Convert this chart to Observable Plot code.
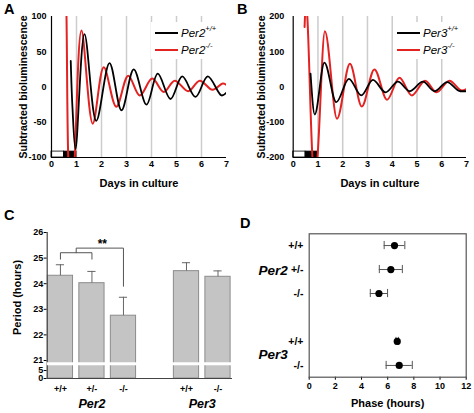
<!DOCTYPE html>
<html><head><meta charset="utf-8">
<script src="https://cdn.jsdelivr.net/npm/d3@7"></script>
<script src="https://cdn.jsdelivr.net/npm/@observablehq/plot@0.6"></script>
<style>
body{margin:0;background:#fff;}
#fig{position:relative;width:474px;height:413px;font-family:"Liberation Sans",Arial,sans-serif;overflow:hidden;background:#fff;}
.panel{position:absolute;}
.letter{position:absolute;font-weight:bold;font-size:14.5px;line-height:14.5px;}
.legend{position:absolute;background:#fff;}
.lrow{position:absolute;left:0;display:flex;align-items:center;height:14px;white-space:nowrap;font-style:italic;font-size:11.5px;}
.sw{width:23px;height:1.6px;margin-right:3px;}
.lrow sup{font-size:7.5px;line-height:0;position:relative;top:-1px;}
</style>
</head><body>
<div id="fig">
  <div class="panel" id="pA" style="left:0;top:0"></div>
  <div class="panel" id="pB" style="left:234px;top:0"></div>
  <div class="panel" id="pC" style="left:0;top:200px"></div>
  <div class="panel" id="pD" style="left:234px;top:200px"></div>
  <div class="letter" style="left:4px;top:2px">A</div>
  <div class="letter" style="left:237px;top:2px">B</div>
  <div class="letter" style="left:4px;top:208px">C</div>
  <div class="letter" style="left:240px;top:216px">D</div>
  <div class="legend" id="legA" style="left:151px;top:22px;width:75px;height:37px"></div>
  <div class="legend" id="legB" style="left:393px;top:22px;width:73px;height:37px"></div>
</div>
<script>
// ---------- data ----------
const days = [0, 1, 2, 3, 4, 5, 6, 7];
const gridDays = [1, 2, 3, 4, 5, 6];
const ticksA = [-100, -50, 0, 50, 100];
const ticksB = [-200, -100, 0, 100, 200];

// [day, subtracted bioluminescence]
const per2WT = [[0.77,37],[0.84,-30],[0.96,-88],[1.32,75],[1.79,-48],[2.32,34],[2.80,-33],[3.29,25],[3.80,-25],[4.25,19],[4.76,-17],[5.23,15],[5.76,-14],[6.25,15],[6.80,-12],[7.0,-8]];
const per2KO = [[0.5,300],[0.6,100],[0.67,-100],[0.8,-200],[0.93,-100],[1.2,80],[1.65,-52],[2.09,28],[2.59,-28],[3.07,16],[3.53,-12],[4.03,12],[4.49,-7],[4.93,9],[5.47,-6],[5.93,9],[6.44,-4],[6.85,5],[7.0,3]];
const per3WT = [[0.70,38],[0.87,-78],[1.26,69],[1.74,-43],[2.25,23],[2.75,-24],[3.22,20],[3.73,-15],[4.23,15],[4.71,-12],[5.24,15],[5.71,-12],[6.22,14],[6.75,-12],[7.0,-12]];
const per3KO = [[0.46,170],[0.52,250],[0.57,200],[0.77,-190],[0.87,-280],[0.98,-200],[1.28,158],[1.77,-90],[2.29,66],[2.77,-55],[3.28,50],[3.79,-36],[4.29,26],[4.79,-24],[5.33,18],[5.79,-15],[6.31,18],[6.82,-10],[7.0,-6]];
const ldPhases = [{start: 0, end: 0.5, dark: false}, {start: 0.5, end: 1, dark: true}];

const periodGenes = ["Per2", "Per2", "Per2", "Per3", "Per3"];
const periodGenotypes = ["+/+", "+/-", "-/-", "+/+", "-/-"];
const periodMean = [24.31, 24.02, 22.75, 24.49, 24.27];
const periodSem = [0.43, 0.46, 0.72, 0.33, 0.23];
const periodTicks = [0, 5, 21, 22, 23, 24, 25, 26];

const phaseGenes = ["Per2", "Per2", "Per2", "Per3", "Per3"];
const phaseGenotypes = ["+/+", "+/-", "-/-", "+/+", "-/-"];
const phaseMean = [6.52, 6.24, 5.33, 6.73, 6.88];
const phaseSem = [0.79, 0.88, 0.66, 0.1, 1.0];
const phaseTicks = [0, 2, 4, 6, 8, 10, 12];

// ---------- helpers ----------
const RED = "#e32222";
const FONT = '"Liberation Sans", Arial, sans-serif';
const baseStyle = {fontFamily: FONT, fontSize: "9px", fontWeight: "bold", color: "black", background: "transparent", overflow: "visible"};

function slotIndex(genes) {
  const out = []; let s = 0;
  genes.forEach((g, i) => { if (i > 0 && g !== genes[i - 1]) s++; out.push(s); s++; });
  return out;
}

function timePanel({wt, ko, yDomain, yTicks, marginLeft, curve, tickPad, ylabDx}) {
  const ldTop = yDomain[0] + 0.042 * (yDomain[1] - yDomain[0]);
  return Plot.plot({
    width: 234 + (marginLeft > 55 ? 6 : 0), height: 200,
    marginLeft, marginRight: 8, marginTop: 16, marginBottom: 43,
    style: baseStyle,
    x: {domain: [0, 7], ticks: days, tickSize: 0, tickPadding: 3, label: null, tickFormat: d => String(d)},
    y: {domain: yDomain, ticks: yTicks, tickSize: 0, tickPadding: tickPad, label: null, tickFormat: d => String(d)},
    marks: [
      Plot.ruleX(gridDays, {stroke: "#cccccc", strokeWidth: 1.5}),
      Plot.rect(ldPhases, {x1: "start", x2: "end", y1: yDomain[0], y2: ldTop, fill: d => d.dark ? "black" : "white", stroke: "black", strokeWidth: 0.8}),
      Plot.line(ko, {x: d => d[0], y: d => d[1], stroke: RED, strokeWidth: 2, curve, clip: true}),
      Plot.line(wt, {x: d => d[0], y: d => d[1], stroke: "black", strokeWidth: 1.8, curve, clip: true}),
      Plot.ruleX([0], {stroke: "black", strokeWidth: 1.2}),
      Plot.ruleY([yDomain[0]], {stroke: "black", strokeWidth: 1.2}),
      Plot.text(["Subtracted bioluminescence"], {text: d => d, frameAnchor: "left", textAnchor: "middle", lineAnchor: "middle", rotate: -90, dx: ylabDx, fontSize: 10.5, fontWeight: "bold"}),
      Plot.text(["Days in culture"], {text: d => d, frameAnchor: "bottom", lineAnchor: "middle", dy: 26, fontSize: 11, fontWeight: "bold"})
    ]
  });
}

document.getElementById("pA").append(timePanel({wt: per2WT, ko: per2KO, yDomain: [-100, 100], yTicks: ticksA, marginLeft: 51, curve: "catmull-rom", tickPad: 5, ylabDx: -28}));
document.getElementById("pB").append(timePanel({wt: per3WT, ko: per3KO, yDomain: [-200, 200], yTicks: ticksB, marginLeft: 58.7, curve: "monotone-x", tickPad: 9, ylabDx: -32}));

// ---------- panel C (broken axis) ----------
const slotsP = slotIndex(periodGenes);
// broken value axis: 0–5 and 21–26 hours, compressed 5–21 in between
const brk = d3.scaleLinear().domain([0, 5, 21, 26]).range([0, 8, 18, 146]);
const periodRows = periodMean.map((m, i) => ({slot: slotsP[i], mean: m, hi: m + periodSem[i], geno: periodGenotypes[i], gene: periodGenes[i]}));
const groupC = Array.from(d3.group(periodRows, d => d.gene), ([gene, rows]) => ({gene, slot: d3.mean(rows, r => r.slot)}));
const xMinC = -0.42, xMaxC = 5.46, barHalf = 0.4, capHalf = 0.13, breakValue = 16;
const bracketPair = [[0, 24.96], [0, 25.21], [1, 25.21], [1, 24.96]];
const bracketKO = [[0.5, 25.21], [0.5, 25.39], [2, 25.39], [2, 23.9]];
const sigMark = [{slot: 1.33, y: 25.55, label: "**"}];

document.getElementById("pC").append(Plot.plot({
  width: 234, height: 213, marginLeft: 46.7, marginRight: 2, marginTop: 32, marginBottom: 35,
  style: baseStyle,
  x: {domain: [xMinC, xMaxC], ticks: slotsP, tickFormat: s => periodGenotypes[slotsP.indexOf(s)], tickSize: 0, tickPadding: 7, label: null},
  y: {domain: [brk(0), brk(26)], ticks: periodTicks.map(brk), tickSize: 3, tickPadding: 1, label: null, tickFormat: v => String(Math.round(brk.invert(v)))},
  marks: [
    Plot.rect(periodRows, {x1: d => d.slot - barHalf, x2: d => d.slot + barHalf, y1: brk(0), y2: d => brk(d.mean), fill: "#c4c4c4", stroke: "#8c8c8c", strokeWidth: 1}),
    Plot.ruleX(periodRows, {x: "slot", y1: d => brk(d.mean), y2: d => brk(d.hi), stroke: "#666", strokeWidth: 1}),
    Plot.ruleY(periodRows, {y: d => brk(d.hi), x1: d => d.slot - capHalf, x2: d => d.slot + capHalf, stroke: "#666", strokeWidth: 1}),
    Plot.ruleX([xMinC], {stroke: "#444", strokeWidth: 1.2}),
    Plot.ruleY([brk(0)], {stroke: "#444", strokeWidth: 1.2}),
    Plot.ruleY([brk(breakValue)], {stroke: "white", strokeWidth: 3}),
    Plot.line(bracketPair, {x: d => d[0], y: d => brk(d[1]), stroke: "#555", strokeWidth: 1}),
    Plot.line(bracketKO, {x: d => d[0], y: d => brk(d[1]), stroke: "#555", strokeWidth: 1}),
    Plot.text(sigMark, {x: "slot", y: d => brk(d.y), text: "label", fontSize: 12, fontWeight: "bold"}),
    Plot.text(groupC, {x: "slot", text: "gene", frameAnchor: "bottom", lineAnchor: "middle", dy: 25, fontSize: 12.5, fontStyle: "italic", fontWeight: "bold"}),
    Plot.text(["Period (hours)"], {text: d => d, frameAnchor: "left", textAnchor: "middle", lineAnchor: "middle", rotate: -90, dx: -30, dy: -8, fontSize: 11, fontWeight: "bold"})
  ]
}));

// ---------- panel D ----------
const rowsD = slotIndex(phaseGenes);
const phaseRows = phaseMean.map((m, i) => ({row: rowsD[i], mean: m, lo: m - phaseSem[i], hi: m + phaseSem[i], geno: phaseGenotypes[i], gene: phaseGenes[i]}));
const groupD = Array.from(d3.group(phaseRows, d => d.gene), ([gene, rows]) => ({gene, row: rows.length === 3 ? rows[1].row : d3.mean(rows, r => r.row)}));
const capH = 0.17;

document.getElementById("pD").append(Plot.plot({
  width: 240, height: 213, marginLeft: 74.7, marginRight: 8.3, marginTop: 33.3, marginBottom: 36.3,
  style: baseStyle,
  x: {domain: [0, 12], ticks: phaseTicks, tickSize: 3, tickPadding: 2, label: null, tickFormat: d => String(d)},
  y: {domain: [-0.49, 5.49], reverse: true, axis: null},
  marks: [
    Plot.frame({stroke: "#555", strokeWidth: 1.2}),
    Plot.ruleY(phaseRows, {y: "row", x1: "lo", x2: "hi", stroke: "#555", strokeWidth: 1}),
    Plot.ruleX(phaseRows, {x: "lo", y1: d => d.row - capH, y2: d => d.row + capH, stroke: "#555", strokeWidth: 1}),
    Plot.ruleX(phaseRows, {x: "hi", y1: d => d.row - capH, y2: d => d.row + capH, stroke: "#555", strokeWidth: 1}),
    Plot.dot(phaseRows, {x: "mean", y: "row", r: 3.6, fill: "black"}),
    Plot.text(phaseRows, {y: "row", text: "geno", frameAnchor: "left", dx: -5.7, textAnchor: "end", fontSize: 10.5, fontWeight: "bold"}),
    Plot.text(groupD, {y: "row", text: "gene", frameAnchor: "left", dx: -21.4, dy: 1, textAnchor: "end", fontSize: 13.5, fontStyle: "italic", fontWeight: "bold"}),
    Plot.text(["Phase (hours)"], {text: d => d, frameAnchor: "bottom", lineAnchor: "middle", dy: 26, fontSize: 11, fontWeight: "bold"})
  ]
}));

// ---------- legends ----------
function legend(el, gene) {
  const items = [{c: "black", sup: "+/+", top: 4}, {c: RED, sup: "-/-", top: 21}];
  for (const it of items) {
    const row = document.createElement("div");
    row.className = "lrow";
    row.style.top = it.top + "px";
    row.style.left = "4px";
    row.innerHTML = `<div class="sw" style="background:${it.c}"></div><span>${gene}<sup>${it.sup}</sup></span>`;
    el.append(row);
  }
}
legend(document.getElementById("legA"), "Per2");
legend(document.getElementById("legB"), "Per3");
</script>
</body></html>
